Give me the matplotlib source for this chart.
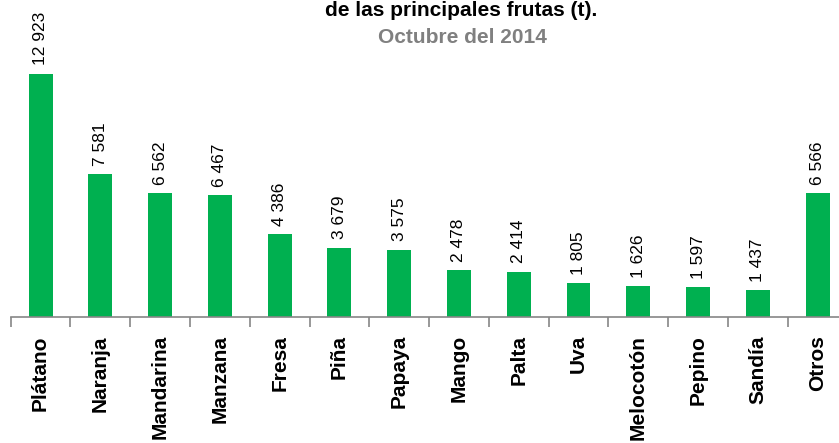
import matplotlib
matplotlib.use('Agg')
import numpy as np
from matplotlib import pyplot as plt

# Data
frutas = ['Plátano', 'Naranja', 'Mandarina', 'Manzana', 'Fresa', 'Piña', 'Papaya',
          'Mango', 'Palta', 'Uva', 'Melocotón', 'Pepino', 'Sandía', 'Otros']
toneladas = [12923, 7581, 6562, 6467, 4386, 3679, 3575, 2478, 2414, 1805, 1626, 1597, 1437, 6566]

W, H = 839, 443
plt.rcParams['font.family'] = ['Liberation Sans', 'DejaVu Sans']

fig = plt.figure(figsize=(W / 100, H / 100), dpi=100)
# axes spans a bit past the right edge, like the cropped original
left = 10.7 / W
width = 14 * 59.77 / W
bottom = (H - 317) / H
ax = fig.add_axes([left, bottom, width, 1 - bottom])

x = np.arange(len(frutas))
bars = ax.bar(x, toneladas, width=0.40, color='#00B050', zorder=2)

for xi, v in zip(x, toneladas):
    txt = '{:,}'.format(v).replace(',', ' ')
    ax.annotate(txt, (xi, v), xytext=(0, 6), textcoords='offset points',
                rotation=90, ha='center', va='bottom', fontsize=12.5, color='black')

ax.set_xlim(-0.5, len(frutas) - 0.5)
ax.set_ylim(0, 12923 * 317 / 243.5)

for s in ['top', 'right', 'left']:
    ax.spines[s].set_visible(False)
ax.spines['bottom'].set_color('#868686')
ax.spines['bottom'].set_linewidth(1.2)
ax.set_yticks([])

ax.set_xticks(x)
ax.set_xticklabels(frutas, rotation=90, fontsize=15, fontweight='bold', va='top', ha='center')
ax.tick_params(axis='x', which='major', length=0, pad=13)
ax.set_xticks(np.arange(-0.5, len(frutas) + 0.5, 1), minor=True)
ax.tick_params(axis='x', which='minor', length=7, width=1.2, color='#868686')

fig.text(461 / W, 1 - 16 / H, 'de las principales frutas (t).', ha='center', va='baseline',
         fontsize=15, fontweight='bold', color='black')
fig.text(462 / W, 1 - 43 / H, 'Octubre del 2014', ha='center', va='baseline',
         fontsize=15, fontweight='bold', color='#808080')

fig.savefig('out.png', dpi=100)
